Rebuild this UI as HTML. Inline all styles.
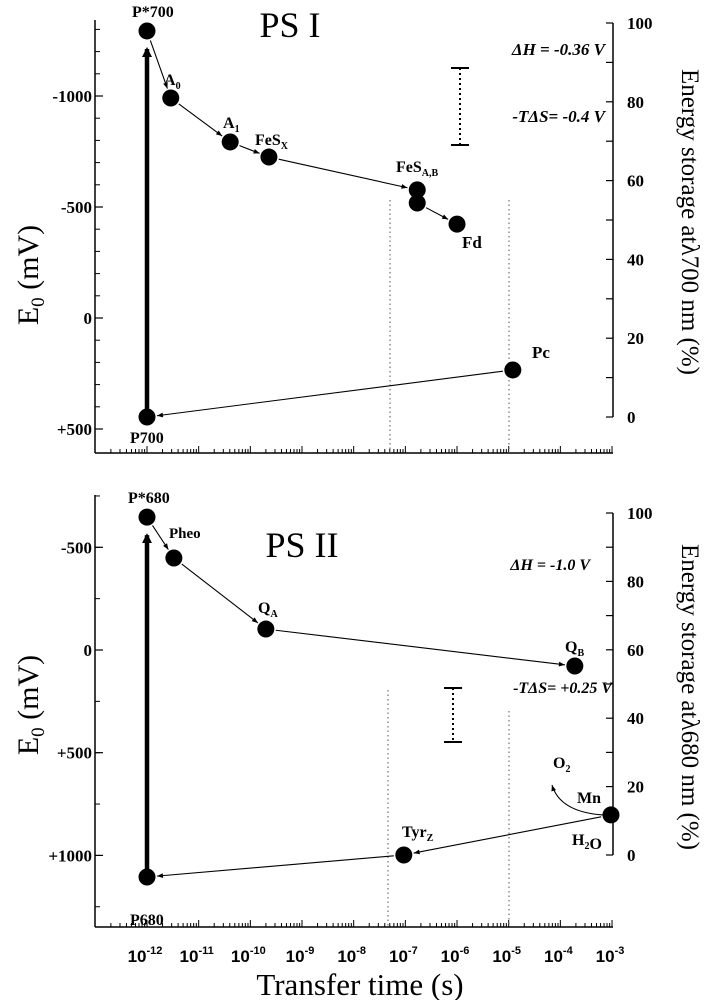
<!DOCTYPE html>
<html><head><meta charset="utf-8"><style>
body{margin:0;background:#fff;}
svg{display:block;font-family:"Liberation Serif",serif;}
.b{font-weight:bold;}
</style></head><body>
<svg id="chart" width="707" height="1000" viewBox="0 0 707 1000" xmlns="http://www.w3.org/2000/svg">
<defs>
<marker id="ah" viewBox="0 0 10 10" refX="10" refY="5" markerWidth="7" markerHeight="6" orient="auto-start-reverse" markerUnits="userSpaceOnUse"><path d="M0,1 L10,5 L0,9 z" fill="#000"/></marker>
<marker id="ahb" viewBox="0 0 10 10" refX="8" refY="5" markerWidth="10" markerHeight="12" orient="auto" markerUnits="userSpaceOnUse"><path d="M0,0 L10,5 L0,10 z" fill="#000"/></marker>
</defs>
<g id="g"></g>
</svg>
<script>
// ---- data ----
const decades = [-12,-11,-10,-9,-8,-7,-6,-5,-4,-3];
const ps1Names = ["P*700","A0","A1","FeSX","FeSA","FeSB","Fd","Pc","P700"];
const ps1LogT = [-12,-11.54,-10.39,-9.64,-6.77,-6.77,-6.0,-4.92,-12];
const ps1E = [-1293,-991,-793,-725,-577,-518,-423,234,446];
const ps2Names = ["P*680","Pheo","QA","QB","Mn","TyrZ","P680"];
const ps2LogT = [-12,-11.48,-9.7,-3.72,-3.02,-7.03,-12];
const ps2E = [-647,-448,-102,78,803,998,1105];
const ps1LeftTicks = [-1000,-500,0,500];
const ps1LeftLabels = ["-1000","-500","0","+500"];
const ps2LeftTicks = [-500,0,500,1000];
const ps2LeftLabels = ["-500","0","+500","+1000"];
const rightTicks = [0,20,40,60,80,100];

const NS="http://www.w3.org/2000/svg";
const G=document.getElementById('g');
function el(t,a,txt){const e=document.createElementNS(NS,t);for(const k in a)e.setAttribute(k,a[k]);if(txt!==undefined)e.textContent=txt;G.appendChild(e);return e;}
const X=lt=>147+(lt+12)*51.67;
const AXL=95, AXR=613;

function panel(p){
  const Y=p.Y, R=p.R;
  let e;
  e=el('line',{x1:AXL,y1:p.top,x2:AXL,y2:p.bot,stroke:'#000','stroke-width':1.5});
  
  
  e=el('line',{x1:AXL,y1:p.bot,x2:AXR,y2:p.bot,stroke:'#000','stroke-width':1.5});
  
  
  e=el('line',{x1:AXR,y1:R(100),x2:AXR,y2:R(0),stroke:'#000','stroke-width':1.5});
  
  
  for(let v=p.minFrom; v<=p.minTo; v+=p.minStep){el('line',{x1:AXL,y1:Y(v),x2:AXL+5,y2:Y(v),stroke:'#000','stroke-width':1});}
  p.lt.forEach((v,i)=>{
    el('line',{x1:AXL,y1:Y(v),x2:AXL+8,y2:Y(v),stroke:'#000','stroke-width':1.2});
    e=el('text',{x:AXL-3,y:Y(v)+6,'text-anchor':'end','font-size':17,class:'b'},p.ll[i]);
    
    
  });
  for(let v=0;v<=100;v+=10){el('line',{x1:AXR-7,y1:R(v),x2:AXR,y2:R(v),stroke:'#000','stroke-width':1.2});}
  rightTicks.forEach(v=>{
    e=el('text',{x:AXR+14,y:R(v)+6,'font-size':17,class:'b'},String(v));
    
    
  });
  for(let d=-13; d<-3; d++){
    for(let m=1;m<10;m++){
      const x=147+(d+12+Math.log10(m))*51.67;
      if(x<AXL+2||x>AXR+1)continue;
      el('line',{x1:x,y1:p.bot,x2:x,y2:p.bot-(m===1?7:4),stroke:'#000','stroke-width':1});
    }
  }
  el('line',{x1:X(-3),y1:p.bot,x2:X(-3),y2:p.bot-7,stroke:'#000','stroke-width':1});
  p.dots.forEach(d=>el('line',{x1:d[0],y1:d[1],x2:d[0],y2:p.bot,stroke:'#555','stroke-width':1,'stroke-dasharray':'1.5,3'}));
  const bx=p.bar[0];
  el('line',{x1:bx,y1:p.bar[1],x2:bx,y2:p.bar[2],stroke:'#000','stroke-width':2,'stroke-dasharray':'2,3'});
  el('line',{x1:bx-9,y1:p.bar[1],x2:bx+9,y2:p.bar[1],stroke:'#000','stroke-width':2});
  el('line',{x1:bx-9,y1:p.bar[2],x2:bx+9,y2:p.bar[2],stroke:'#000','stroke-width':2});
}

const P1={id:'ps1',top:20,bot:453,Y:v=>318+v*111/500,R:v=>417-v*3.94,lt:ps1LeftTicks,ll:ps1LeftLabels,minFrom:-1300,minTo:500,minStep:100,dots:[[390,200],[509,200]],bar:[460,68,145]};
const P2={id:'ps2',top:495,bot:927,Y:v=>650+v*102.7/500,R:v=>855-v*3.42,lt:ps2LeftTicks,ll:ps2LeftLabels,minFrom:-750,minTo:1250,minStep:250,dots:[[388,690],[509,711]],bar:[453,688,742]};
panel(P1); panel(P2);

function arrow(x1,y1,x2,y2,shrink){
  const dx=x2-x1,dy=y2-y1,L=Math.hypot(dx,dy);
  const e=el('line',{x1:x1+dx/L*shrink,y1:y1+dy/L*shrink,x2:x2-dx/L*shrink,y2:y2-dy/L*shrink,stroke:'#000','stroke-width':1.1,'marker-end':'url(#ah)'});
  
  
}
function series(P,names,lt,E,chain,big){
  const px=lt.map(X), py=E.map(P.Y);
  const e=el('line',{x1:px[big[0]],y1:py[big[0]],x2:px[big[1]],y2:py[big[1]]+18,stroke:'#000','stroke-width':4.5,'marker-end':'url(#ahb)'});
  
  
  chain.forEach(c=>arrow(px[c[0]],py[c[0]],px[c[1]],py[c[1]],10));
  names.forEach((n,i)=>{
    const c=el('circle',{cx:px[i],cy:py[i],r:8.5,fill:'#000'});
    
    
  });
  return [px,py];
}
const s1=series(P1,ps1Names,ps1LogT,ps1E,[[0,1],[1,2],[2,3],[3,4],[5,6],[7,8]],[8,0]);
const s2=series(P2,ps2Names,ps2LogT,ps2E,[[0,1],[1,2],[2,3],[4,5],[5,6]],[6,0]);
el('path',{d:`M${s2[0][4]-8},${s2[1][4]} Q560,812 552,785`,fill:'none',stroke:'#000','stroke-width':1.1,'marker-end':'url(#ah)'});

function lbl(x,y,html,size,name,anchor,italic){
  const t=el('text',{x:x,y:y,'font-size':size||16,class:'b','text-anchor':anchor||'start'});
  if(italic)t.setAttribute('font-style','italic');
  t.innerHTML=html;
  
  
  return t;
}
const sub=(s)=>`<tspan font-size="10" dy="4">${s}</tspan>`;
lbl(132,17,'P*700',16,'label-p700-star');
lbl(164,85,'A'+sub('0'),16,'label-a0');
lbl(223,128,'A'+sub('1'),16,'label-a1');
lbl(255,145,'FeS'+sub('X'),16,'label-fesx');
lbl(396,172,'FeS'+sub('A,B'),16,'label-fesab');
lbl(462,248,'Fd',17,'label-fd');
lbl(532,358,'Pc',17,'label-pc');
lbl(130,443,'P700',16,'label-p700');
lbl(128,503,'P*680',16,'label-p680-star');
lbl(169,538,'Pheo',15,'label-pheo');
lbl(258,613,'Q'+sub('A'),16,'label-qa');
lbl(565,652,'Q'+sub('B'),16,'label-qb');
lbl(553,768,'O'+sub('2'),16,'label-o2');
lbl(577,803,'Mn',16,'label-mn');
lbl(572,845,'H'+sub('2')+'O',16,'label-h2o');
lbl(402,837,'Tyr'+sub('Z'),16,'label-tyrz');
lbl(130,925,'P680',16,'label-p680');
lbl(605,55,'ΔH = -0.36 V',17,'delta-h-ps1','end',true);
lbl(605,122,'-TΔS= -0.4 V',17,'tds-ps1','end',true);
lbl(590,570,'ΔH = -1.0 V',16,'delta-h-ps2','end',true);
lbl(612,693,'-TΔS= +0.25 V',16,'tds-ps2','end',true);
let t;
t=el('text',{x:290,y:37,'font-size':36,'text-anchor':'middle'},'PS I');

t=el('text',{x:302,y:557,'font-size':36,'text-anchor':'middle'},'PS II');

[[275,'ps1'],[705,'ps2']].forEach(a=>{
  t=el('text',{x:0,y:0,'font-size':30,'text-anchor':'middle',transform:`translate(38,${a[0]}) rotate(-90)`});
  t.innerHTML='E<tspan font-size="19" dy="6">0</tspan><tspan dy="-6"> (mV)</tspan>';
  
});
t=el('text',{x:0,y:0,'font-size':25,'text-anchor':'middle',transform:'translate(682,222) rotate(90)'},'Energy storage at\u03bb700 nm (%)');

t=el('text',{x:0,y:0,'font-size':25,'text-anchor':'middle',transform:'translate(682,697) rotate(90)'},'Energy storage at\u03bb680 nm (%)');

decades.forEach(d=>{
  const tx=el('text',{x:X(d)-2,y:962,'font-size':17,class:'b','text-anchor':'middle','font-family':'Liberation Sans, sans-serif'});
  tx.innerHTML=`10<tspan font-size="11" dy="-8">${d}</tspan>`;
  
  
});
t=el('text',{x:360,y:995,'font-size':31,'text-anchor':'middle'},'Transfer time (s)');

</script>
</body></html>
